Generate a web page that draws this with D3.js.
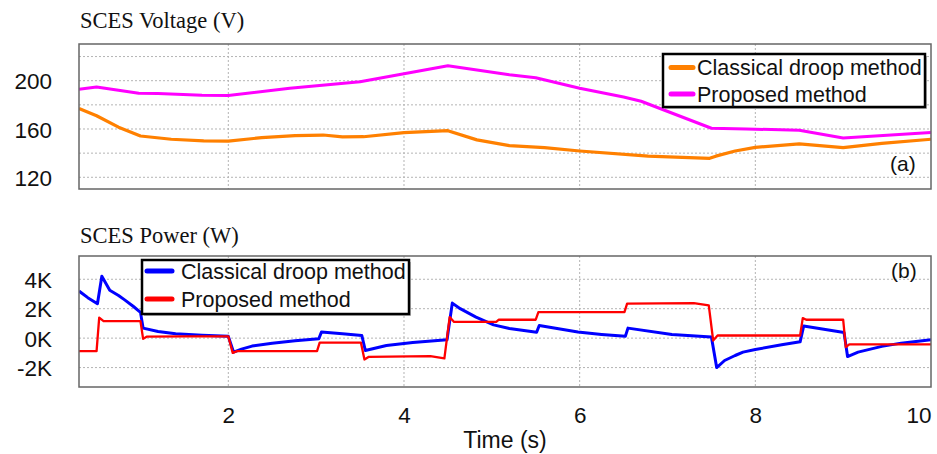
<!DOCTYPE html>
<html>
<head>
<meta charset="utf-8">
<script src="https://cdn.jsdelivr.net/npm/d3@7"></script>
<style>
  html, body { margin: 0; padding: 0; background: #fff; }
  svg { display: block; }
</style>
</head>
<body>
<svg id="chart" width="937" height="454"></svg>
<script>
// ---- Data: SCES voltage (V) over time (s) ----
const classicalVoltage = [
  [0.3, 177], [0.5, 171], [0.75, 161.5], [1.0, 154.2], [1.35, 151.5], [1.72, 150.1],
  [2.0, 150], [2.38, 152.8], [2.76, 154.5], [3.08, 155], [3.3, 153.4], [3.54, 153.6],
  [4.0, 157], [4.5, 158.6], [4.83, 151], [5.2, 146.2], [5.6, 144.5], [6.0, 141.8],
  [6.78, 137.6], [7.48, 135.7], [7.55, 137.5], [7.77, 141.8], [8.0, 144.8], [8.5, 147.6],
  [9.0, 144.6], [9.44, 148.1], [10, 151.5]
];
const proposedVoltage = [
  [0.3, 193], [0.5, 194.8], [0.98, 189.6], [1.2, 189.3], [1.7, 188], [2.0, 187.8],
  [2.7, 193.7], [3.5, 199.2], [4.5, 212.4], [5.2, 205], [5.5, 202.5], [6.0, 193.7],
  [6.5, 186.5], [6.7, 183], [7.5, 160.6], [7.9, 160], [8.5, 159], [9.0, 152.5], [10, 157]
];

// ---- Data: SCES power (W) over time (s) ----
const classicalPower = [
  [0.3, 3200], [0.4, 2750], [0.51, 2340], [0.56, 4200], [0.65, 3250], [0.75, 2900],
  [0.82, 2600], [0.92, 2150], [1.0, 1750], [1.03, 680], [1.2, 450], [1.4, 300],
  [1.7, 200], [2.0, 120], [2.06, -950], [2.15, -750], [2.27, -540], [2.5, -350],
  [2.76, -180], [3.03, -40], [3.06, 410], [3.3, 300], [3.52, 180], [3.56, -840],
  [3.8, -500], [4.1, -300], [4.49, -110], [4.55, 2380], [4.64, 2000], [4.82, 1430],
  [5.02, 900], [5.2, 650], [5.51, 400], [5.54, 860], [5.98, 410], [6.25, 250],
  [6.52, 120], [6.55, 680], [7.05, 250], [7.5, 70], [7.56, -2000], [7.65, -1520],
  [7.77, -1180], [7.86, -950], [8.0, -770], [8.3, -450], [8.51, -250], [8.55, 820],
  [9.01, 380], [9.05, -1250], [9.17, -950], [9.44, -560], [9.66, -340], [10, -110]
];
const proposedPower = [
  [0.3, -880], [0.5, -880], [0.53, 1390], [0.58, 1150], [1.0, 1150], [1.03, -50],
  [1.07, 100], [1.5, 120], [2.0, 120], [2.05, -1000], [2.1, -880], [3.01, -880],
  [3.04, -310], [3.51, -310], [3.55, -1450], [3.6, -1270], [4.3, -1220], [4.46, -1380],
  [4.52, 1430], [4.57, 1100], [5.05, 1100], [5.08, 1250], [5.5, 1250], [5.53, 1770],
  [6.51, 1770], [6.54, 2340], [7.3, 2380], [7.47, 2220], [7.52, -160], [7.57, 180],
  [8.51, 180], [8.54, 1360], [8.58, 1250], [9.0, 1250], [9.03, -610], [9.07, -420],
  [10, -420]
];

// ---- Axis ticks and labels ----
const timeTicks = [2, 4, 6, 8, 10];
const voltageGrid = [120, 140, 160, 180, 200, 220];
const voltageLabels = [120, 160, 200];
const powerTicks = [-2000, 0, 2000, 4000];
const legendNames = ["Classical droop method", "Proposed method"];

const svg = d3.select("#chart");
const left = 79, right = 931;
const sans = "'Liberation Sans', Arial, sans-serif";
const serif = "'Liberation Serif', 'Times New Roman', serif";

const x = d3.scaleLinear().domain([0.3, 10]).range([left, right]);

function drawPanel(cfg) {
  const g = svg.append("g");
  const y = d3.scaleLinear().domain(cfg.domain).range([cfg.bottom, cfg.top]);

  // grid lines
  g.append("g").selectAll("line.h").data(cfg.grid).join("line")
    .attr("x1", left).attr("x2", right)
    .attr("y1", d => y(d)).attr("y2", d => y(d))
    .attr("stroke", "#b4b4b4").attr("stroke-width", 1).attr("stroke-dasharray", "2,2");
  g.append("g").selectAll("line.v").data(timeTicks.filter(t => t < 10)).join("line")
    .attr("x1", d => x(d)).attr("x2", d => x(d))
    .attr("y1", cfg.top).attr("y2", cfg.bottom)
    .attr("stroke", "#b4b4b4").attr("stroke-width", 1).attr("stroke-dasharray", "2,2");

  // y tick labels
  const yAxis = d3.axisLeft(y).tickValues(cfg.labels).tickSize(0).tickPadding(0)
    .tickFormat(cfg.format);
  const ya = g.append("g").attr("transform", `translate(${52},0)`).call(yAxis);
  ya.select(".domain").remove();
  ya.selectAll("text").attr("font-family", sans).attr("font-size", 22.5).attr("fill", "#111")
    .attr("dy", "0.36em");

  // series
  const line = d3.line().x(d => x(d[0])).y(d => y(d[1]));
  const clipId = "clip" + cfg.id;
  svg.append("clipPath").attr("id", clipId).append("rect")
    .attr("x", left).attr("y", cfg.top).attr("width", right - left).attr("height", cfg.bottom - cfg.top);
  cfg.series.forEach(s => {
    g.append("path").datum(s.data).attr("d", line)
      .attr("fill", "none").attr("stroke", s.color).attr("stroke-width", s.width)
      .attr("stroke-linejoin", "round").attr("clip-path", `url(#${clipId})`);
  });

  // frame
  g.append("rect").attr("x", left).attr("y", cfg.top)
    .attr("width", right - left).attr("height", cfg.bottom - cfg.top)
    .attr("fill", "none").attr("stroke", "#666").attr("stroke-width", 1.5);

  // legend
  const L = cfg.legend;
  const lg = g.append("g");
  lg.append("rect").attr("x", L.x + 2).attr("y", L.y + 2).attr("width", L.w).attr("height", L.h)
    .attr("fill", "#bbb");
  lg.append("rect").attr("x", L.x).attr("y", L.y).attr("width", L.w).attr("height", L.h)
    .attr("fill", "#fff").attr("stroke", "#000").attr("stroke-width", 2.5);
  cfg.series.forEach((s, i) => {
    const ly = L.y + L.rows[i];
    lg.append("line").attr("x1", L.x + L.lineX0).attr("x2", L.x + L.lineX1)
      .attr("y1", ly).attr("y2", ly).attr("stroke", s.color).attr("stroke-width", 5)
      .attr("stroke-linecap", "round");
    lg.append("text").attr("x", L.x + L.textX).attr("y", ly).attr("dy", "0.36em")
      .attr("font-family", sans).attr("font-size", 21.5).attr("fill", "#111")
      .text(legendNames[i]);
  });

  // panel tag
  g.append("text").attr("x", cfg.tag.x).attr("y", cfg.tag.y)
    .attr("font-family", sans).attr("font-size", 21).attr("fill", "#111").text(cfg.tag.text);

  // title
  svg.append("text").attr("x", 80).attr("y", cfg.titleY)
    .attr("font-family", serif).attr("font-size", 22.5).attr("fill", "#111").text(cfg.title);

  return y;
}

drawPanel({
  id: "a", top: 44, bottom: 189, domain: [110.3, 230.4],
  grid: voltageGrid, labels: voltageLabels, format: d3.format("d"),
  series: [
    { data: classicalVoltage, color: "#ff8000", width: 3.2 },
    { data: proposedVoltage, color: "#ff00ff", width: 3 }
  ],
  legend: { x: 663, y: 54, w: 262, h: 53, rows: [13.5, 40], lineX0: 8, lineX1: 30, textX: 34 },
  tag: { x: 890, y: 171, text: "(a)" },
  title: "SCES Voltage (V)", titleY: 27.5
});

drawPanel({
  id: "b", top: 256, bottom: 387, domain: [-3320, 5580],
  grid: powerTicks, labels: powerTicks, format: d => (d / 1000) + "K",
  series: [
    { data: classicalPower, color: "#0000ff", width: 3 },
    { data: proposedPower, color: "#ff0000", width: 2.3 }
  ],
  legend: { x: 142, y: 260, w: 267, h: 54, rows: [11, 39], lineX0: 5, lineX1: 30, textX: 39 },
  tag: { x: 891, y: 278, text: "(b)" },
  title: "SCES Power (W)", titleY: 243
});

// x axis labels (bottom panel only); the last one sits flush with the frame edge
const xa = svg.append("g").attr("transform", "translate(0,403)")
  .call(d3.axisBottom(x).tickValues(timeTicks).tickSize(0).tickPadding(0).tickFormat(d3.format("d")));
xa.select(".domain").remove();
xa.selectAll("text").attr("font-family", sans).attr("font-size", 22.5).attr("fill", "#111")
  .attr("dy", "0.9em")
  .attr("text-anchor", d => d === 10 ? "end" : "middle");

svg.append("text").attr("x", 505).attr("y", 448).attr("text-anchor", "middle")
  .attr("font-family", sans).attr("font-size", 23).attr("fill", "#111").text("Time (s)");
</script>
</body>
</html>
